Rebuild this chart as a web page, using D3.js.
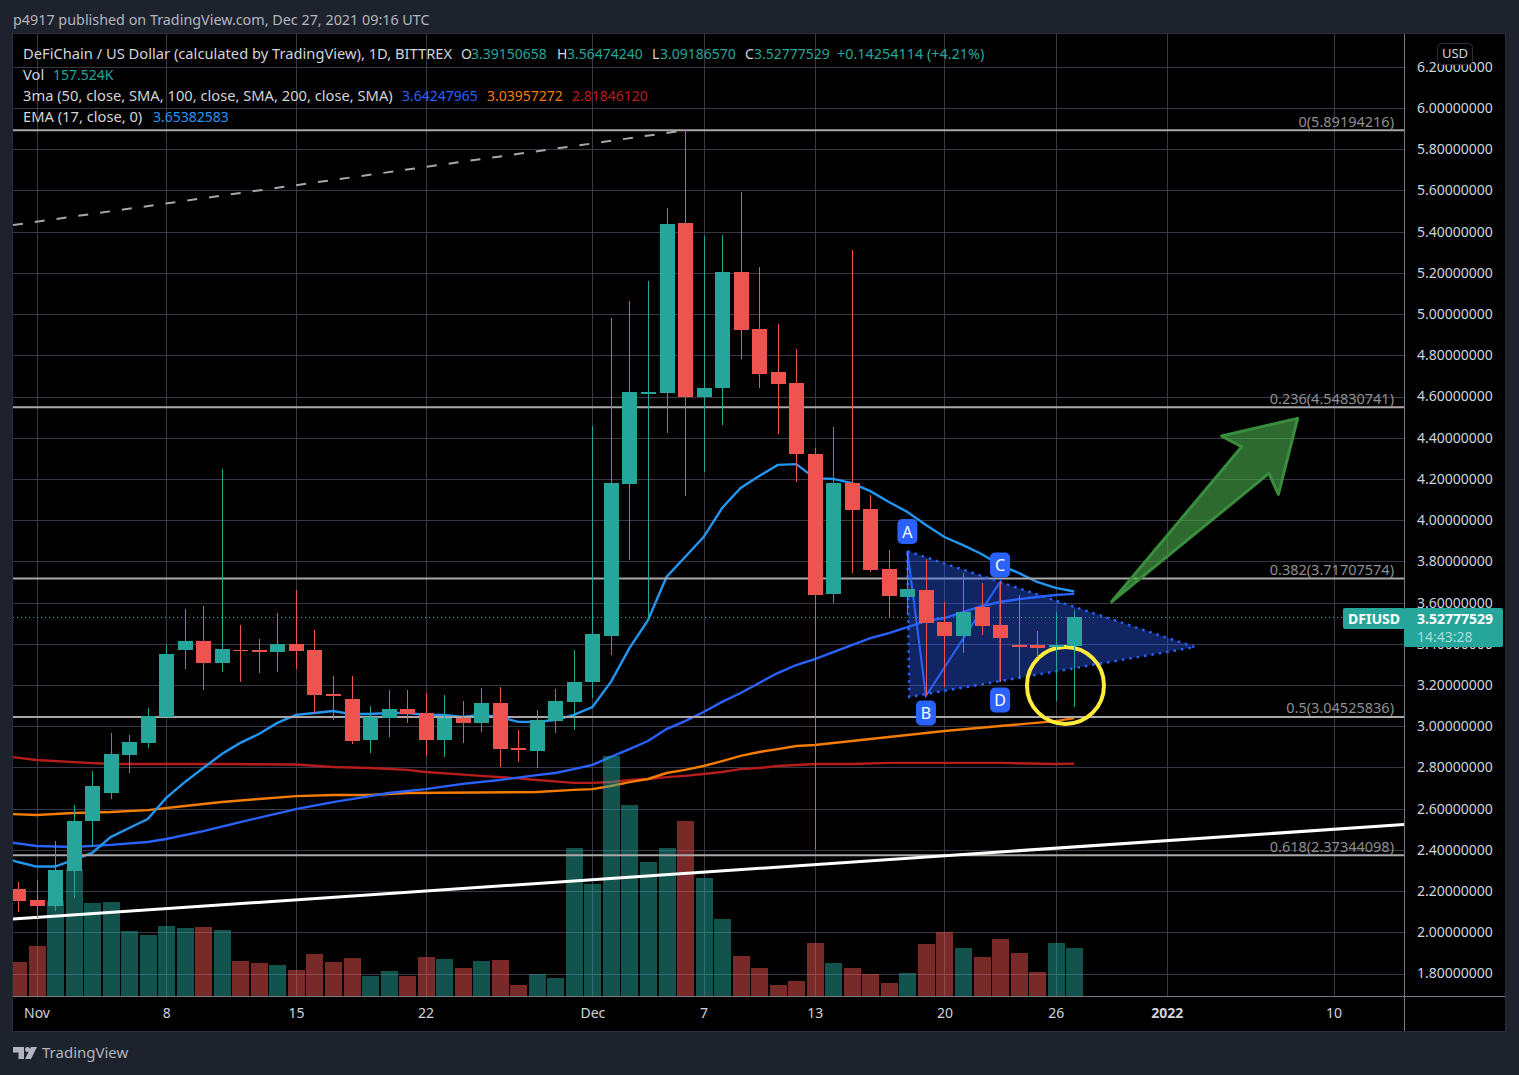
<!DOCTYPE html>
<html>
<head>
<meta charset="utf-8">
<script src="https://d3js.org/d3.v7.min.js"></script>
<style>
  html, body { margin: 0; padding: 0; background: #1e222d; }
  svg { display: block; }
  text { font-family: "Noto Sans", Lato, sans-serif; }
</style>
</head>
<body>
<div id="chart"></div>
<script>
// days are counted from Nov 1 2021
const firstDay = -1;
const opens = [2.210,2.157,2.128,2.297,2.540,2.676,2.860,2.919,3.045,3.370,3.413,3.307,3.370,3.370,3.360,3.399,3.370,3.156,3.132,2.933,3.040,3.083,3.064,2.933,3.040,3.016,3.113,2.894,2.880,3.025,3.118,3.215,3.438,4.175,4.612,4.617,5.442,4.598,4.641,5.204,4.928,4.719,4.666,4.321,3.642,4.180,4.054,3.763,3.627,3.661,3.505,3.438,3.578,3.491,3.394,3.394,3.384,3.39150658];
const highs = [2.244,2.254,2.443,2.618,2.783,2.967,2.957,3.088,3.394,3.569,3.583,4.248,3.491,3.423,3.549,3.661,3.467,3.244,3.244,3.098,3.176,3.176,3.161,3.151,3.122,3.185,3.190,2.982,3.079,3.180,3.370,4.457,4.981,5.063,5.160,5.515,5.893,5.379,5.384,5.592,5.229,4.952,4.831,4.350,4.452,5.311,4.122,3.855,3.850,3.811,3.603,3.744,3.695,3.700,3.637,3.462,3.554,3.5647424];
const lows = [2.098,2.069,2.103,2.166,2.413,2.647,2.773,2.895,3.045,3.278,3.176,3.263,3.215,3.258,3.263,3.278,3.064,3.030,2.913,2.870,2.948,3.016,2.855,2.850,2.919,2.972,2.802,2.826,2.797,2.967,2.982,3.137,3.345,3.807,3.515,4.423,4.117,4.234,4.462,4.782,4.641,4.418,4.185,2.399,3.598,3.744,3.748,3.525,3.549,3.147,3.190,3.355,3.443,3.215,3.229,3.336,3.122,3.0918657];
const closes = [2.152,2.128,2.302,2.540,2.710,2.865,2.923,3.050,3.350,3.413,3.307,3.375,3.365,3.360,3.399,3.365,3.151,3.151,2.928,3.045,3.083,3.059,2.933,3.040,3.016,3.113,2.889,2.885,3.030,3.122,3.215,3.448,4.180,4.621,4.621,5.437,4.598,4.641,5.204,4.923,4.709,4.661,4.321,3.637,4.180,4.049,3.758,3.632,3.666,3.500,3.438,3.554,3.486,3.428,3.384,3.379,3.394,3.52777529];
const volumes = [112,164,312,417,305,309,213,200,230,223,226,217,115,108,102,85,138,112,125,66,82,66,128,121,92,115,118,36,72,59,486,368,788,627,440,486,574,387,253,131,92,36,49,174,108,92,72,43,75,171,210,158,128,187,141,79,174,157.524];

const emaFirstDay = -2;
const ema17 = [2.370,2.341,2.319,2.319,2.351,2.385,2.462,2.506,2.550,2.652,2.729,2.797,2.865,2.919,2.962,3.016,3.055,3.064,3.074,3.059,3.059,3.064,3.064,3.055,3.055,3.045,3.055,3.045,3.021,3.021,3.030,3.055,3.093,3.215,3.379,3.515,3.724,3.821,3.918,4.059,4.156,4.214,4.268,4.272,4.204,4.200,4.180,4.141,4.088,4.040,3.976,3.918,3.879,3.836,3.782,3.744,3.700,3.671,3.65382583];

const ma50Days = [-2,0,2,4,6,7,9,11,14,16,18,19,21,23,25,27,28,29,30,31,32,33,34,35,36,37,38,39,40,41,42,43,44,45,46,47,48,49,50,51,52,53,54,55,56];
const ma50 = [2.443,2.419,2.414,2.424,2.438,2.453,2.491,2.535,2.598,2.632,2.661,2.676,2.695,2.720,2.739,2.763,2.773,2.792,2.812,2.851,2.889,2.928,2.986,3.025,3.069,3.118,3.161,3.210,3.258,3.297,3.326,3.360,3.394,3.428,3.452,3.481,3.510,3.525,3.554,3.583,3.603,3.617,3.627,3.637,3.64247965];
const ma100Days = [-2,0,2,4,6,8,10,12,14,16,18,20,27,29,30,31,32,33,34,35,36,37,38,39,40,41,42,44,46,49,52,55,56];
const ma100 = [2.576,2.569,2.579,2.584,2.593,2.613,2.632,2.647,2.661,2.666,2.666,2.676,2.681,2.691,2.695,2.710,2.729,2.744,2.773,2.788,2.807,2.831,2.856,2.875,2.889,2.904,2.909,2.928,2.948,2.977,3.001,3.025,3.03957272];
const ma200Days = [-2,0,2,4,6,10,14,16,18,20,21,24,26,27,29,30,31,32,33,34,35,36,37,38,39,40,41,42,44,46,49,52,55,56];
const ma200 = [2.858,2.836,2.826,2.817,2.817,2.817,2.814,2.802,2.797,2.788,2.778,2.759,2.747,2.739,2.725,2.725,2.729,2.739,2.744,2.753,2.759,2.768,2.778,2.792,2.797,2.807,2.812,2.817,2.817,2.822,2.822,2.822,2.817,2.81846120];

const priceTicks = [1.8,2.0,2.2,2.4,2.6,2.8,3.0,3.2,3.4,3.6,3.8,4.0,4.2,4.4,4.6,4.8,5.0,5.2,5.4,5.6,5.8,6.0,6.2];
const timeTickDays = [0,7,14,21,30,36,42,49,55,61,70];
const timeTickLabels = ["Nov","8","15","22","Dec","7","13","20","26","2022","10"];

const fibLevels = [5.89194216,4.54830741,3.71707574,3.04525836,2.37344098];
const fibLabels = ["0(5.89194216)","0.236(4.54830741)","0.382(3.71707574)","0.5(3.04525836)","0.618(2.37344098)"];

const dashedDays = [-1.27,34.73];
const dashedPrices = [5.432,5.888];
const trendDays = [-1.27,73.8];
const trendPrices = [2.0645,2.523];

const triangleDays = [47,62.52,47.1];
const trianglePrices = [3.85,3.384,3.142];
const patternDays = [47,48,52,52];
const patternPrices = [3.85,3.147,3.70,3.215];
const patternLabels = ["A","B","C","D"];

const arrowDays = [58.02,65.04,63.96,68.06,67.02,66.51];
const arrowPrices = [3.604,4.356,4.408,4.494,4.125,4.227];
const circleDay = 55.53;
const circlePrice = 3.198;

const config = {
  width: 1519, height: 1075,
  left: 13, right: 1404, top: 34, bottom: 996, outerRight: 1505, outerBottom: 1031,
};
const colors = {
  up: "#26a69a", down: "#ef5350", grid: "#383848", fib: "#a8a8a8", axis: "#d1d4dc",
  ma50: "#2962ff", ma100: "#f57c00", ma200: "#b71c1c", ema: "#2196f3",
};

const x = d3.scaleLinear().domain([0, 70]).range([36.5, 1333.6]);
const y = d3.scaleLinear().domain([6, 2]).range([108, 932.3]);
const volumeY = d3.scaleLinear().domain([0, 1000]).range([config.bottom, config.bottom - 304.7]);

const candles = opens.map((o, i) => ({
  day: firstDay + i, open: o, high: highs[i], low: lows[i], close: closes[i],
  volume: volumes[i], up: closes[i] >= o,
}));

const svg = d3.select("#chart").append("svg")
  .attr("width", config.width).attr("height", config.height);

svg.append("defs").append("clipPath").attr("id", "pane").append("rect")
  .attr("x", config.left).attr("y", config.top)
  .attr("width", config.right - config.left).attr("height", config.bottom - config.top);

// black chart frame
svg.append("rect")
  .attr("x", config.left - 0.5).attr("y", config.top - 0.5)
  .attr("width", config.outerRight - config.left + 1).attr("height", config.outerBottom - config.top + 1)
  .attr("fill", "#000").attr("stroke", "#2a2e39");

const pane = svg.append("g").attr("clip-path", "url(#pane)");

// grid
pane.append("g").selectAll("line").data(priceTicks).join("line")
  .attr("x1", config.left).attr("x2", config.right)
  .attr("y1", (d) => Math.round(y(d)) + 0.5).attr("y2", (d) => Math.round(y(d)) + 0.5)
  .attr("stroke", colors.grid);
pane.append("g").selectAll("line").data(timeTickDays).join("line")
  .attr("x1", (d) => Math.round(x(d)) + 0.5).attr("x2", (d) => Math.round(x(d)) + 0.5)
  .attr("y1", config.top).attr("y2", config.bottom)
  .attr("stroke", colors.grid);

// moving averages sit under the volume bars
const priceLine = d3.line().x((d) => x(d[0])).y((d) => y(d[1]));
const maSeries = [
  { days: ma200Days, values: ma200, color: colors.ma200 },
  { days: ma100Days, values: ma100, color: colors.ma100 },
  { days: ma50Days, values: ma50, color: colors.ma50 },
  { days: ema17.map((d, i) => emaFirstDay + i), values: ema17, color: colors.ema },
];
pane.append("g").selectAll("path").data(maSeries).join("path")
  .attr("d", (s) => priceLine(s.days.map((d, i) => [d, s.values[i]])))
  .attr("fill", "none").attr("stroke", (s) => s.color).attr("stroke-width", 2.4);

// volume
pane.append("g").attr("shape-rendering", "crispEdges").selectAll("rect").data(candles).join("rect")
  .attr("x", (d) => Math.round(x(d.day)) - 8)
  .attr("width", 17)
  .attr("y", (d) => volumeY(d.volume))
  .attr("height", (d) => config.bottom - volumeY(d.volume))
  .attr("fill", (d) => (d.up ? "rgba(38,166,154,0.5)" : "rgba(239,83,80,0.5)"));

// fib levels
const fibs = pane.append("g");
fibs.selectAll("line").data(fibLevels).join("line")
  .attr("x1", config.left).attr("x2", config.right)
  .attr("y1", (d) => y(d)).attr("y2", (d) => y(d))
  .attr("stroke", colors.fib).attr("stroke-width", 2);
fibs.selectAll("text").data(fibLevels).join("text")
  .attr("x", 1394).attr("y", (d) => y(d) - 3.5)
  .attr("text-anchor", "end").attr("font-size", 14.5).attr("fill", "#8f8f8f")
  .text((d, i) => fibLabels[i]);

// trend lines
pane.append("path")
  .attr("d", priceLine(dashedDays.map((d, i) => [d, dashedPrices[i]])))
  .attr("stroke", colors.fib).attr("stroke-width", 2).attr("stroke-dasharray", "10 12").attr("fill", "none");
pane.append("path")
  .attr("d", priceLine(trendDays.map((d, i) => [d, trendPrices[i]])))
  .attr("stroke", "#fff").attr("stroke-width", 3).attr("fill", "none");

// ABCD pattern
const polygon = (days, prices) =>
  "M" + days.map((d, i) => `${x(d)},${y(prices[i])}`).join("L") + "Z";
pane.append("path")
  .attr("d", polygon(triangleDays, trianglePrices))
  .attr("fill", "rgba(41,98,255,0.38)").attr("stroke", colors.ma50)
  .attr("stroke-width", 2.5).attr("stroke-dasharray", "2.5 5");
pane.append("path")
  .attr("d", priceLine(patternDays.map((d, i) => [d, patternPrices[i]])))
  .attr("fill", "none").attr("stroke", colors.ma50).attr("stroke-width", 2);

const labelOffset = { A: -19.5, B: 17, C: -17, D: 18 };
const markers = pane.append("g").selectAll("g").data(patternLabels).join("g")
  .attr("transform", (d, i) => `translate(${x(patternDays[i])},${y(patternPrices[i]) + labelOffset[d]})`);
markers.append("rect")
  .attr("x", -10).attr("y", -12.5).attr("width", 20).attr("height", 25).attr("rx", 5)
  .attr("fill", colors.ma50);
markers.append("text")
  .attr("text-anchor", "middle").attr("y", 6).attr("font-size", 16).attr("fill", "#fff")
  .text((d) => d);

// arrow and circle
pane.append("path")
  .attr("d", polygon(arrowDays, arrowPrices))
  .attr("fill", "rgba(76,175,80,0.6)").attr("stroke", "#388e3c")
  .attr("stroke-width", 3).attr("stroke-linejoin", "round");
pane.append("circle")
  .attr("cx", x(circleDay)).attr("cy", y(circlePrice)).attr("r", 38.5)
  .attr("fill", "none").attr("stroke", "#ffeb3b").attr("stroke-width", 4);

// last price line
const lastPrice = closes[closes.length - 1];
pane.append("line")
  .attr("x1", config.left).attr("x2", config.right)
  .attr("y1", Math.round(y(lastPrice)) + 0.5).attr("y2", Math.round(y(lastPrice)) + 0.5)
  .attr("stroke", colors.up).attr("stroke-dasharray", "1 3");

// candles on top of everything
const candleColor = (d) => (d.up ? colors.up : colors.down);
const candleG = pane.append("g").attr("shape-rendering", "crispEdges");
candleG.selectAll(".wick").data(candles).join("line")
  .attr("class", "wick")
  .attr("x1", (d) => Math.round(x(d.day)) + 0.5).attr("x2", (d) => Math.round(x(d.day)) + 0.5)
  .attr("y1", (d) => y(d.high)).attr("y2", (d) => y(d.low))
  .attr("stroke", candleColor);
candleG.selectAll(".body").data(candles).join("rect")
  .attr("class", "body")
  .attr("x", (d) => Math.round(x(d.day)) - 7)
  .attr("width", 15)
  .attr("y", (d) => y(Math.max(d.open, d.close)))
  .attr("height", (d) => Math.max(1.5, Math.abs(y(d.open) - y(d.close))))
  .attr("fill", candleColor);

// axes
const priceAxis = svg.append("g")
  .attr("transform", `translate(${config.right},0)`)
  .call(d3.axisRight(y).tickValues(priceTicks).tickSize(0).tickPadding(13).tickFormat((d) => d.toFixed(8)));
priceAxis.select(".domain").remove();
priceAxis.selectAll("text").attr("font-size", 14).attr("font-family", "Lato").attr("fill", colors.axis);

const timeAxis = svg.append("g")
  .attr("transform", `translate(0,${config.bottom})`)
  .call(d3.axisBottom(x).tickValues(timeTickDays).tickSize(0).tickPadding(12).tickFormat((d, i) => timeTickLabels[i]));
timeAxis.select(".domain").remove();
timeAxis.selectAll("text").attr("font-size", 14).attr("font-family", "Lato").attr("fill", colors.axis)
  .attr("font-weight", (d, i) => (timeTickLabels[i] === "2022" ? 700 : 400));

svg.append("line")
  .attr("x1", config.left).attr("x2", config.outerRight).attr("y1", config.bottom + 0.5).attr("y2", config.bottom + 0.5)
  .attr("stroke", "#787b86");
svg.append("line")
  .attr("x1", config.right + 0.5).attr("x2", config.right + 0.5).attr("y1", config.top).attr("y2", config.outerBottom)
  .attr("stroke", "#787b86");

// USD button
svg.append("rect").attr("x", 1437.5).attr("y", 43.5).attr("width", 35).attr("height", 21).attr("rx", 4)
  .attr("fill", "#000").attr("stroke", "#2a2e39");
svg.append("text").attr("x", 1455).attr("y", 58).attr("text-anchor", "middle")
  .attr("font-size", 13).attr("fill", colors.axis).text("USD");

// last price tag
svg.append("rect").attr("x", 1343).attr("y", 608).attr("width", 62).attr("height", 21).attr("rx", 2).attr("fill", colors.up);
svg.append("rect").attr("x", 1404).attr("y", 608).attr("width", 99).attr("height", 39).attr("rx", 2).attr("fill", colors.up);
svg.append("text").attr("x", 1348).attr("y", 624).attr("font-size", 14).attr("font-family", "Lato").attr("font-weight", 700).attr("fill", "#fff").text("DFIUSD");
svg.append("text").attr("x", 1417).attr("y", 624).attr("font-size", 14).attr("font-family", "Lato").attr("font-weight", 700).attr("fill", "#fff").text(lastPrice.toFixed(8));
svg.append("text").attr("x", 1417).attr("y", 642).attr("font-size", 14).attr("font-family", "Lato").attr("fill", "#a8dcd6").text("14:43:28");

// legend
const legendText = [
  { x: 23, y: 59, size: 14.7, text: "DeFiChain / US Dollar (calculated by TradingView), 1D, BITTREX", color: colors.axis },
  { x: 461, y: 59, size: 14, text: "O", color: colors.axis }, { x: 471, y: 59, size: 14, text: "3.39150658", color: colors.up },
  { x: 557, y: 59, size: 14, text: "H", color: colors.axis }, { x: 567, y: 59, size: 14, text: "3.56474240", color: colors.up },
  { x: 652, y: 59, size: 14, text: "L", color: colors.axis }, { x: 660, y: 59, size: 14, text: "3.09186570", color: colors.up },
  { x: 745, y: 59, size: 14, text: "C", color: colors.axis }, { x: 754, y: 59, size: 14, text: "3.52777529", color: colors.up },
  { x: 837, y: 59, size: 14.4, text: "+0.14254114 (+4.21%)", color: colors.up },
  { x: 23, y: 80, size: 14.7, text: "Vol", color: colors.axis }, { x: 53, y: 80, size: 14, text: "157.524K", color: colors.up },
  { x: 23, y: 101, size: 14.7, text: "3ma (50, close, SMA, 100, close, SMA, 200, close, SMA)", color: colors.axis },
  { x: 402, y: 101, size: 14, text: "3.64247965", color: colors.ma50 },
  { x: 487, y: 101, size: 14, text: "3.03957272", color: colors.ma100 },
  { x: 572, y: 101, size: 14, text: "2.81846120", color: colors.ma200 },
  { x: 23, y: 122, size: 14.7, text: "EMA (17, close, 0)", color: colors.axis }, { x: 153, y: 122, size: 14, text: "3.65382583", color: colors.ema },
];
svg.append("g").selectAll("text").data(legendText).join("text")
  .attr("x", (d) => d.x).attr("y", (d) => d.y).attr("font-size", (d) => d.size).attr("fill", (d) => d.color)
  .text((d) => d.text);

// header and footer
svg.append("text").attr("x", 13).attr("y", 25).attr("font-size", 14.35).attr("fill", "#b2b5be")
  .text("p4917 published on TradingView.com, Dec 27, 2021 09:16 UTC");
const logo = svg.append("g").attr("fill", "#b2b5be");
logo.append("path").attr("d", "M13,1047H24V1059H18.5V1052.5H13Z");
logo.append("circle").attr("cx", 27.5).attr("cy", 1049.5).attr("r", 2.5);
logo.append("path").attr("d", "M31,1047H37L31,1059H25Z");
svg.append("text").attr("x", 42).attr("y", 1058).attr("font-size", 15).attr("fill", "#b2b5be").text("TradingView");
</script>
</body>
</html>
